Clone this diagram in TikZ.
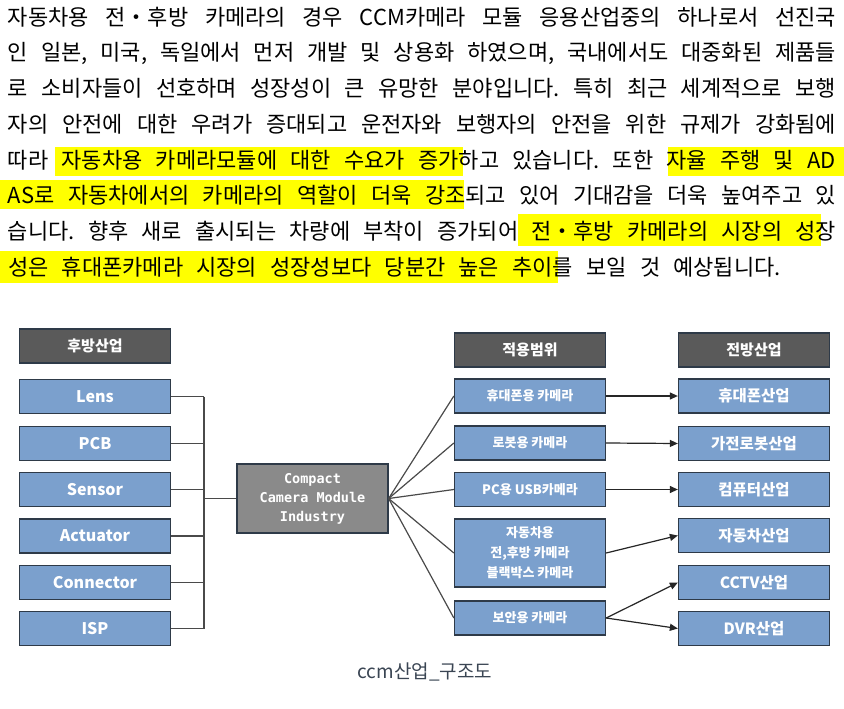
\documentclass[tikz,border=0pt]{standalone}
\usepackage{fontspec}
\setmainfont{Noto Sans CJK KR}
\newfontfamily\monofam{DejaVu Sans Mono}
\usetikzlibrary{arrows.meta}
\frenchspacing
\newcommand\wsp{\spaceskip=0.6em plus 1em minus 0.08em\relax}
\newcommand\pline[1]{\wsp\makebox[828pt][s]{#1}}
\definecolor{hlyellow}{HTML}{FFFF00}
\definecolor{hdrgray}{HTML}{5A5A5A}
\definecolor{ctrgray}{HTML}{8A8A8A}
\definecolor{boxblue}{HTML}{7BA0CD}
\definecolor{boxborder}{HTML}{2E3A48}
\definecolor{linegray}{HTML}{4A4A4A}
\definecolor{captioncol}{HTML}{3A4553}
\tikzset{
  para/.style={inner sep=0pt, font=\fontsize{22}{26}\selectfont, text=black},
  hlbox/.style={fill=hlyellow},
  basebox/.style={draw=boxborder, line width=1.3pt, minimum width=151pt, minimum height=34pt, inner sep=0pt, text=white, align=center},
  hdrbox/.style={basebox, fill=hdrgray, font=\bfseries\fontsize{15}{18}\selectfont},
  leftbox/.style={basebox, fill=boxblue, font=\bfseries\fontsize{16}{18}\selectfont},
  midbox/.style={basebox, fill=boxblue, font=\bfseries\fontsize{13}{20}\selectfont},
  rightbox/.style={basebox, fill=boxblue, font=\bfseries\fontsize{15.5}{18}\selectfont},
  ctrbox/.style={basebox, fill=ctrgray, minimum height=69pt, font=\monofam\bfseries\fontsize{13.5}{19}\selectfont},
  conn/.style={draw=linegray, line width=1.2pt},
  arr/.style={conn, -{Triangle[length=8pt,width=7pt]}, draw=black!85}
}
\begin{document}
\begin{tikzpicture}[x=1pt,y=-1pt]
\useasboundingbox (0,0) rectangle (844,709);
\fill[white] (0,0) rectangle (844,709);
% highlights
\fill[hlbox] (55,147) rectangle (463,176);
\fill[hlbox] (668,147) rectangle (844,176);
\fill[hlbox] (0,180) rectangle (464,209);
\fill[hlbox] (518,214) rectangle (821,246);
\fill[hlbox] (0,251) rectangle (558,283);
% paragraph
\node[para] (p1) at (422,17) {\pline{자동차용 전・후방 카메라의 경우 CCM카메라 모듈 응용산업중의 하나로서 선진국}};
\node[para] (p2) at (422,53) {\pline{인 일본, 미국, 독일에서 먼저 개발 및 상용화 하였으며, 국내에서도 대중화된 제품들}};
\node[para] (p3) at (422,88) {\pline{로 소비자들이 선호하며 성장성이 큰 유망한 분야입니다. 특히 최근 세계적으로 보행}};
\node[para] (p4) at (422,124) {\pline{자의 안전에 대한 우려가 증대되고 운전자와 보행자의 안전을 위한 규제가 강화됨에}};
\node[para] (p5) at (422,160) {\pline{따라 자동차용 카메라모듈에 대한 수요가 증가하고 있습니다. 또한 자율 주행 및 AD}};
\node[para] (p6) at (422,195) {\pline{AS로 자동차에서의 카메라의 역할이 더욱 강조되고 있어 기대감을 더욱 높여주고 있}};
\node[para] (p7) at (422,231) {\pline{습니다. 향후 새로 출시되는 차량에 부착이 증가되어 전・후방 카메라의 시장의 성장}};
\node[para, anchor=west] (p8) at (8,267) {\wsp 성은 휴대폰카메라 시장의 성장성보다 당분간 높은 추이를 보일 것 예상됩니다.};
% headers
\node[hdrbox] (h1) at (95,346) {후방산업};
\node[hdrbox] (h2) at (530,350) {적용범위};
\node[hdrbox] (h3) at (754,350) {전방산업};
% left column
\node[leftbox] (lens) at (95,396.5) {Lens};
\node[leftbox] (pcb) at (95,443.5) {PCB};
\node[leftbox] (sensor) at (95,489.5) {Sensor};
\node[leftbox] (actuator) at (95,536) {Actuator};
\node[leftbox] (connector) at (95,582.5) {Connector};
\node[leftbox] (isp) at (95,628.5) {ISP};
% center
\node[ctrbox] (ccm) at (312.5,498.5) {Compact\\Camera Module\\Industry};
% middle column
\node[midbox] (m1) at (530,396) {휴대폰용 카메라};
\node[midbox] (m2) at (530,443) {로봇용 카메라};
\node[midbox] (m3) at (530,489.5) {PC용 USB카메라};
\node[midbox, minimum height=68pt] (m4) at (530,553) {자동차용\\전,후방 카메라\\블랙박스 카메라};
\node[midbox] (m5) at (530,618) {보안용 카메라};
% right column
\node[rightbox] (r1) at (754,396) {휴대폰산업};
\node[rightbox] (r2) at (754,443.5) {가전로봇산업};
\node[rightbox] (r3) at (754,489.5) {컴퓨터산업};
\node[rightbox] (r4) at (754,535.5) {자동차산업};
\node[rightbox] (r5) at (754,582.5) {CCTV산업};
\node[rightbox] (r6) at (754,628.5) {DVR산업};
% bus
\coordinate (bus) at (204,498.5);
\foreach \n in {lens,pcb,sensor,actuator,connector,isp}{
  \draw[conn] (\n.east) -- (\n.east -| bus);
}
\draw[conn] (lens.east -| bus) -- (isp.east -| bus);
\draw[conn] (bus) -- (ccm.west);
% fan out
\foreach \n in {m1,m2,m3,m4,m5}{
  \draw[conn] (ccm.east) -- (\n.west);
}
% arrows
\draw[arr] (m1.east) -- (r1.west);
\draw[arr] (m2.east) -- (r2.west);
\draw[arr] (m3.east) -- (r3.west);
\draw[arr] (m4.east) -- (r4.west);
\draw[arr] (m5.east) -- (r5.west);
\draw[arr] (m5.east) -- (r6.west);
% caption
\node[text=captioncol, font=\fontsize{19}{22}\selectfont] (cap) at (425,672) {ccm산업\_구조도};
\end{tikzpicture}
\end{document}
